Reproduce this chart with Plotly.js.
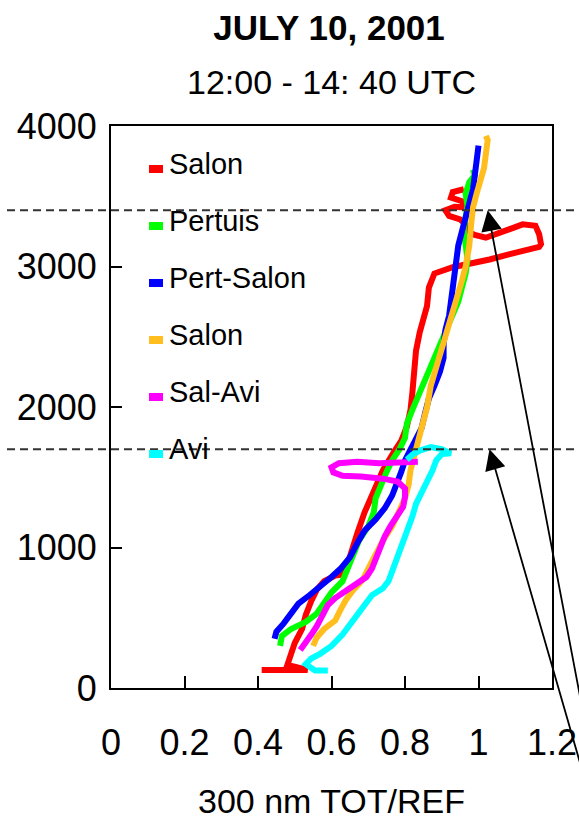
<!DOCTYPE html>
<html>
<head>
<meta charset="utf-8">
<script src="https://cdn.plot.ly/plotly-3.0.1.min.js"></script>
<style>
  html, body { margin: 0; padding: 0; background: #ffffff; }
  #chart { width: 579px; height: 822px; }
</style>
</head>
<body>
<div id="chart"></div>
<script>
// Flight profiles: 300 nm TOT/REF ratio against altitude (m)
const seriesNames  = ['Salon', 'Pertuis', 'Pert-Salon', 'Salon', 'Sal-Avi', 'Avi'];
const seriesColors = ['#FF0000', '#00FF00', '#0000FF', '#FFBE1E', '#FF00FF', '#00FFFF'];

const ratioSalon1 = [0.41,0.535,0.48,0.49,0.50,0.52,0.53,0.545,0.56,0.58,0.61,0.635,0.645,0.66,0.67,0.69,0.715,0.74,0.77,0.79,0.805,0.815,0.82,0.825,0.83,0.84,0.85,0.86,0.865,0.88,0.93,0.98,1.03,1.08,1.13,1.165,1.17,1.165,1.155,1.12,1.10,1.07,1.04,1.02,0.99,0.97,0.965,0.95,0.92,0.91,0.935,0.965,0.955,0.925,0.93,0.96];
const altSalon1   = [128,128,165,230,320,420,520,620,700,760,800,810,900,1000,1100,1250,1400,1550,1680,1760,1860,1980,2100,2250,2400,2530,2650,2720,2850,2950,2995,3020,3050,3085,3120,3140,3160,3230,3290,3300,3280,3250,3220,3205,3225,3250,3300,3335,3360,3400,3425,3420,3465,3490,3530,3550];

const ratioPertuis = [0.46,0.465,0.49,0.53,0.56,0.58,0.60,0.63,0.645,0.66,0.675,0.70,0.715,0.72,0.735,0.75,0.765,0.785,0.80,0.805,0.82,0.84,0.855,0.87,0.885,0.895,0.91,0.93,0.945,0.955,0.965,0.97,0.965,0.96,0.965,0.97,0.965,0.975,0.99,0.985];
const altPertuis   = [300,370,420,470,530,600,680,760,850,950,1050,1150,1250,1350,1450,1540,1620,1700,1780,1880,1980,2100,2200,2290,2370,2430,2540,2650,2750,2850,2950,3050,3150,3260,3350,3430,3520,3600,3650,3690];

const ratioPertSalon = [0.445,0.45,0.47,0.49,0.51,0.54,0.57,0.60,0.625,0.65,0.67,0.69,0.72,0.745,0.765,0.78,0.79,0.80,0.815,0.83,0.845,0.855,0.865,0.88,0.895,0.905,0.905,0.91,0.92,0.925,0.93,0.935,0.94,0.945,0.955,0.965,0.975,0.985,0.99,0.995,1.0];
const altPertSalon   = [350,400,460,530,600,660,720,790,850,930,1030,1120,1200,1280,1370,1460,1540,1620,1690,1760,1850,1960,2060,2150,2250,2350,2450,2550,2650,2750,2850,2950,3050,3150,3250,3350,3450,3550,3650,3750,3860];

const ratioSalon2 = [0.55,0.56,0.58,0.61,0.625,0.64,0.66,0.685,0.70,0.72,0.74,0.765,0.785,0.80,0.81,0.815,0.825,0.835,0.845,0.86,0.87,0.885,0.90,0.915,0.93,0.945,0.955,0.965,0.975,0.98,0.985,0.995,1.005,1.015,1.02,1.025,1.02];
const altSalon2   = [300,360,420,480,560,630,700,770,850,950,1050,1150,1270,1350,1450,1550,1650,1750,1850,2000,2150,2280,2400,2530,2650,2780,2900,3000,3150,3300,3420,3520,3600,3700,3800,3900,3930];

const ratioSalAvi = [0.515,0.53,0.545,0.56,0.575,0.59,0.61,0.64,0.67,0.695,0.71,0.72,0.73,0.745,0.76,0.78,0.795,0.80,0.80,0.78,0.74,0.68,0.63,0.605,0.60,0.62,0.67,0.73,0.79,0.835];
const altSalAvi   = [270,320,380,440,520,590,640,690,740,790,850,920,1000,1080,1150,1220,1290,1360,1420,1470,1490,1505,1510,1535,1570,1600,1610,1600,1600,1610];

const ratioAvi = [0.59,0.555,0.53,0.545,0.57,0.60,0.63,0.65,0.67,0.69,0.71,0.74,0.755,0.765,0.775,0.785,0.795,0.81,0.82,0.83,0.845,0.86,0.875,0.885,0.90,0.925,0.90,0.87,0.84,0.82,0.805];
const altAvi   = [125,125,170,210,245,300,380,450,520,590,660,710,760,830,900,970,1050,1130,1220,1310,1400,1470,1550,1620,1665,1670,1700,1715,1690,1660,1625];

const seriesRatios = [ratioSalon1, ratioPertuis, ratioPertSalon, ratioSalon2, ratioSalAvi, ratioAvi];
const seriesAlts   = [altSalon1, altPertuis, altPertSalon, altSalon2, altSalAvi, altAvi];

// Axis ticks
const xTickVals = [0, 0.2, 0.4, 0.6, 0.8, 1, 1.2];
const xTickText = ['0', '0.2', '0.4', '0.6', '0.8', '1', '1.2'];
const yTickVals = [0, 1000, 2000, 3000, 4000];
const yTickText = ['0', '1000', '2000', '3000', '4000'];

// Layer boundaries (m) and the arrows pointing at them (tails run off the lower right)
const layerTops     = [3400, 1700];
const arrowTipRatio = [1.025, 1.03];
const arrowTipAlt   = [3400, 1700];
const arrowTailRatio = [1.33, 1.33];
const arrowTailAlt   = [-800, -1020];

const FONT = '"Liberation Sans", Arial, Helvetica, sans-serif';

const traces = seriesNames.map((name, i) => ({
  type: 'scatter',
  mode: 'lines',
  name: name,
  x: seriesRatios[i],
  y: seriesAlts[i],
  line: { color: seriesColors[i], width: 6 },
  hoverinfo: 'skip',
  showlegend: false
}));

// Plot area geometry in pixels (used for paper-space placement of legend & helpers)
const M = { l: 111, r: 27, t: 126, b: 134 };
const W = 579, H = 822;
const plotW = W - M.l - M.r, plotH = H - M.t - M.b;
const px2paperX = px => (px - M.l) / plotW;
const px2paperY = py => (H - M.b - py) / plotH;

const shapes = [];
const annotations = [];

layerTops.forEach(v => {
  shapes.push({
    type: 'line', xref: 'paper', yref: 'y',
    x0: px2paperX(7), x1: px2paperX(585), y0: v, y1: v,
    line: { color: '#333333', width: 2, dash: '8px,5px' },
    layer: 'above'
  });
});

arrowTipRatio.forEach((xv, i) => {
  annotations.push({
    x: xv, y: arrowTipAlt[i], xref: 'x', yref: 'y',
    axref: 'x', ayref: 'y', ax: arrowTailRatio[i], ay: arrowTailAlt[i],
    text: '', showarrow: true,
    arrowhead: 2, arrowsize: 2.3, arrowwidth: 1.8, arrowcolor: '#000000'
  });
});

// Legend block
const legendTextTop = 163.5, legendStep = 57;
seriesNames.forEach((name, i) => {
  const cy = legendTextTop + legendStep * i;
  shapes.push({
    type: 'rect', xref: 'paper', yref: 'paper',
    x0: px2paperX(149), x1: px2paperX(163),
    y0: px2paperY(cy + 9.5), y1: px2paperY(cy + 1.5),
    fillcolor: seriesColors[i], line: { width: 0 }
  });
  annotations.push({
    text: name, xref: 'paper', yref: 'paper',
    x: px2paperX(167), y: px2paperY(cy),
    xanchor: 'left', yanchor: 'middle', showarrow: false,
    font: { family: FONT, size: 29, color: '#000000' }
  });
});

// Subtitle
annotations.push({
  text: '12:00 - 14: 40 UTC', xref: 'paper', yref: 'paper',
  x: px2paperX(331), y: px2paperY(82),
  xanchor: 'center', yanchor: 'middle', showarrow: false,
  font: { family: FONT, size: 34, color: '#000000' }
});

const axisCommon = {
  showgrid: false, zeroline: false,
  showline: true, linecolor: '#000000', linewidth: 2, mirror: true,
  ticks: 'inside', tickwidth: 2, tickcolor: '#000000',
  tickmode: 'array',
  tickfont: { family: FONT, size: 36, color: '#000000' },
  fixedrange: true
};

const layout = {
  width: W, height: H,
  margin: M,
  paper_bgcolor: '#ffffff', plot_bgcolor: '#ffffff',
  font: { family: FONT, color: '#000000' },
  showlegend: false,
  title: {
    text: '<b>JULY 10, 2001</b>',
    font: { family: FONT, size: 35, color: '#000000' },
    xref: 'paper', x: px2paperX(329), xanchor: 'center',
    yref: 'container', y: 1 - 28 / H, yanchor: 'middle'
  },
  xaxis: Object.assign({}, axisCommon, {
    range: [0, 1.2],
    tickvals: xTickVals, ticktext: xTickText,
    ticklen: 12, ticklabelstandoff: 22,
    title: { text: '300 nm TOT/REF', font: { family: FONT, size: 34, color: '#000000' }, standoff: 27 }
  }),
  yaxis: Object.assign({}, axisCommon, {
    range: [0, 4000],
    tickvals: yTickVals, ticktext: yTickText,
    ticklen: 11, ticklabelstandoff: 5
  }),
  shapes: shapes,
  annotations: annotations
};

Plotly.newPlot('chart', traces, layout, { staticPlot: true, displayModeBar: false });
</script>
</body>
</html>
